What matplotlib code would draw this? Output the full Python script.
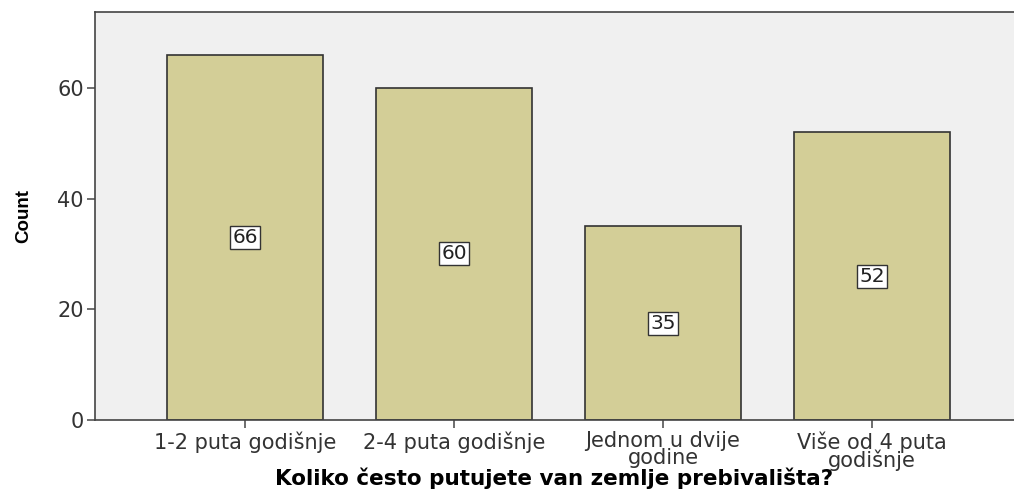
import matplotlib.pyplot as plt

categories = ["1-2 puta godišnje", "2-4 puta godišnje", "Jednom u dvije\ngodine", "Više od 4 puta\ngodišnje"]
counts = [66, 60, 35, 52]
yticks = [0, 20, 40, 60]

plt.rcParams['font.family'] = ['DejaVu Sans']

fig = plt.figure(figsize=(10.14, 4.91), dpi=100)
ax = fig.add_axes([0.0937, 0.1446, 0.9063, 0.831])
ax.set_facecolor("#f0f0f0")

x = range(len(categories))
ax.bar(x, counts, width=0.746, color="#d3ce97", edgecolor="#333333", linewidth=1.2, zorder=2)

# value labels in the middle of each bar
for i, v in enumerate(counts):
    ax.text(i, v / 2, str(v), ha="center", va="center", fontsize=14.5, color="#222222",
            bbox=dict(boxstyle="square,pad=0.1", facecolor="white", edgecolor="#333333", linewidth=1),
            zorder=3)

ax.set_xlim(-0.718, 3.68)
ax.set_ylim(0, 73.7)
ax.set_xticks(list(x))
ax.set_xticklabels(categories, fontsize=15, color="#333333", linespacing=0.8)
ax.set_yticks(yticks)
ax.set_yticklabels([str(t) for t in yticks], fontsize=15, color="#333333")
ax.tick_params(axis="both", length=6, color="#555555", width=1.2, pad=2)

for s in ["top", "left", "bottom"]:
    ax.spines[s].set_color("#444444")
    ax.spines[s].set_linewidth(1.2)
ax.spines["right"].set_visible(False)

ax.set_ylabel("Count", fontsize=13.5, fontweight="bold", fontstretch="condensed",
              family="Liberation Sans", labelpad=18)
ax.set_xlabel("Koliko često putujete van zemlje prebivališta?", fontsize=15.5, fontweight="bold", labelpad=-2)

fig.savefig("out.png", dpi=100)
